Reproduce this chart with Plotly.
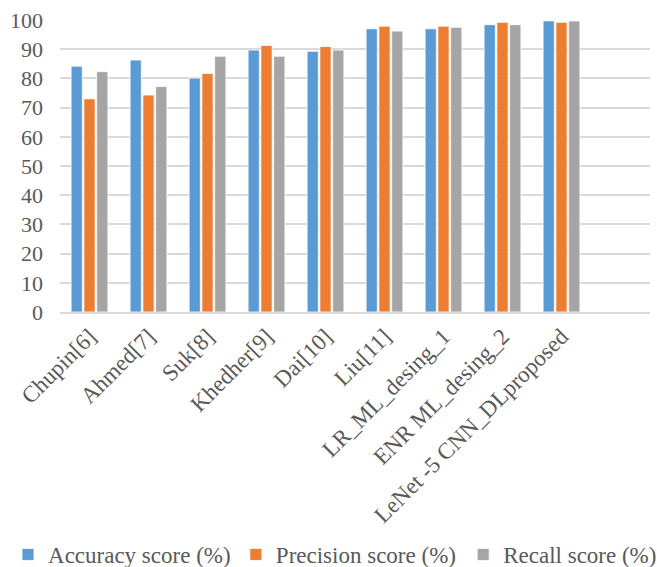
import plotly.graph_objects as go

# Methods compared (the last slot is left empty, as on the category axis)
methods = ["Chupin[6]", "Ahmed[7]", "Suk[8]", "Khedher[9]", "Dai[10]", "Liu[11]",
           "LR_ML_desing_1", "ENR ML_desing_2", "LeNet -5 CNN_DLproposed", " "]

accuracy = [84.2, 86.3, 80.1, 89.7, 89.3, 97.0, 97.0, 98.4, 99.7, None]
precision = [73.0, 74.3, 81.7, 91.3, 90.9, 97.9, 97.9, 99.2, 99.2, None]
recall = [82.3, 77.2, 87.6, 87.6, 89.7, 96.2, 97.5, 98.4, 99.7, None]

series = [
    ("Accuracy score (%)", accuracy, "#5B9BD5", "legend"),
    ("Precision score (%)", precision, "#ED7D31", "legend2"),
    ("Recall score (%)", recall, "#A5A5A5", "legend3"),
]

fig = go.Figure()
for name, vals, color, leg in series:
    fig.add_trace(go.Bar(
        x=methods, y=vals, name=name, legend=leg,
        marker=dict(color=color, line=dict(color="white", width=0.8)),
    ))

font_family = "Liberation Serif"
text_color = "#595959"


def legend_box(x):
    # one single-entry legend per series, laid out in a row under the chart
    return dict(
        orientation="h", xref="container", x=x, xanchor="left",
        yref="container", y=0.06, yanchor="top",
        font=dict(family=font_family, size=23, color=text_color),
        itemwidth=30, bgcolor="rgba(0,0,0,0)",
    )


fig.update_layout(
    width=657, height=567,
    margin=dict(l=60, r=7, t=20, b=255, autoexpand=False),
    paper_bgcolor="white", plot_bgcolor="white",
    barmode="group", bargap=0.35, bargroupgap=0.12,
    font=dict(family=font_family, color=text_color, size=22),
    showlegend=True,
    legend=legend_box(0.0122),
    legend2=legend_box(0.359),
    legend3=legend_box(0.705),
    xaxis=dict(
        type="category", tickangle=-45, showgrid=False, automargin=False,
        showline=True, linecolor="#D9D9D9", linewidth=2,
        ticks="", tickfont=dict(size=23, family=font_family, color=text_color),
    ),
    yaxis=dict(
        range=[0, 100], dtick=10, showgrid=True, gridcolor="#D9D9D9", gridwidth=2,
        zeroline=False, ticks="", ticklabelstandoff=16, automargin=False,
        tickfont=dict(size=22, family=font_family, color=text_color),
    ),
)

fig.write_html("out.html")
